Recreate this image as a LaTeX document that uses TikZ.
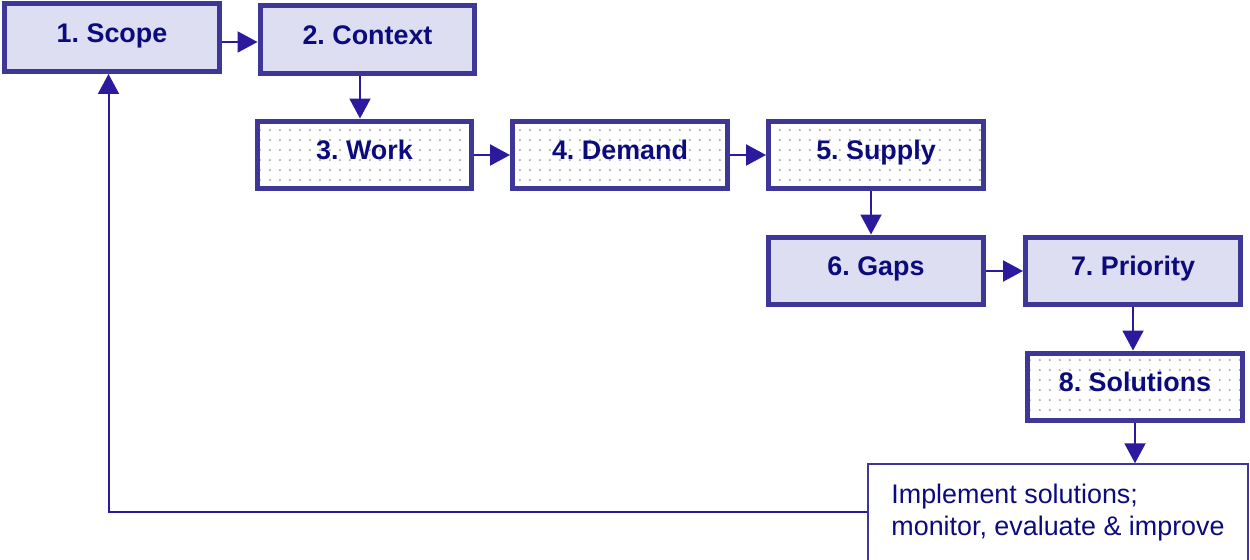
\documentclass[tikz,border=0pt]{standalone}
\usepackage{fontspec}
\setmainfont{Liberation Sans}
\usepackage{tikz}
\usetikzlibrary{arrows.meta,patterns.meta}
\frenchspacing
\definecolor{stepline}{HTML}{3F3797}
\definecolor{stepfill}{HTML}{DEDEF2}
\definecolor{flowline}{HTML}{2C1A9E}
\definecolor{steptext}{HTML}{0B0B7E}
\tikzset{
  stepbox/.style  = {draw=stepline,line width=0.1cm,minimum width=4.3cm,minimum height=1.36cm,
                     text height=0.4cm,text depth=0.21cm,text=steptext,
                     font=\fontsize{15.3}{18}\selectfont\bfseries},
  shadedbox/.style = {stepbox,fill=stepfill},
  dottedbox/.style = {stepbox,pattern={Dots[distance=0.2cm,radius=0.024cm]},pattern color=gray!65},
  actbox/.style   = {draw=stepline,line width=0.03cm,minimum width=7.6cm,minimum height=1.94cm,
                     align=left,text=steptext,font=\fontsize{15.3}{17.8}\selectfont},
  flow/.style     = {-{Triangle[length=0.4cm,width=0.42cm]},draw=flowline,line width=0.04cm}
}

\begin{document}
\begin{tikzpicture}[x=0.02cm,y=-0.02cm]
  \useasboundingbox (0,0) rectangle (1250,560);
  % the eight steps
  \node[shadedbox] (scope)   at (112,37.5)  {1. Scope};
  \node[shadedbox] (context) at (367.5,39.5){2. Context};
  \node[dottedbox] (work)    at (364.5,155) {3. Work};
  \node[dottedbox] (demand)  at (620,155)   {4. Demand};
  \node[dottedbox] (supply)  at (876,155)   {5. Supply};
  \node[shadedbox] (gaps)    at (876,271)   {6. Gaps};
  \node[shadedbox] (prio)    at (1133,271)  {7. Priority};
  \node[dottedbox] (solve)   at (1135,387)  {8. Solutions};
  \node[actbox]    (impl)    at (1058,512.5){Implement solutions;\\monitor, evaluate \& improve};
  % arrows between the steps
  \draw[flow] ([yshift=-0.09cm]scope.east) -- ([yshift=-0.09cm]scope.east -| context.west);
  \draw[flow] ([xshift=-0.15cm]context.south) -- ([xshift=-0.15cm]context.south |- work.north);
  \draw[flow] (work.east) -- (work.east -| demand.west);
  \draw[flow] (demand.east) -- (demand.east -| supply.west);
  \draw[flow] ([xshift=-0.1cm]supply.south) -- ([xshift=-0.1cm]supply.south |- gaps.north);
  \draw[flow] (gaps.east) -- (gaps.east -| prio.west);
  \draw[flow] (prio.south) -- (prio.south |- solve.north);
  \draw[flow] (solve.south) -- (solve.south |- impl.north);
  % back to the start
  \coordinate (back) at (108.5,512);
  \draw[flow] (impl.west |- back) -- (back) -- (back |- scope.south);
\end{tikzpicture}
\end{document}
